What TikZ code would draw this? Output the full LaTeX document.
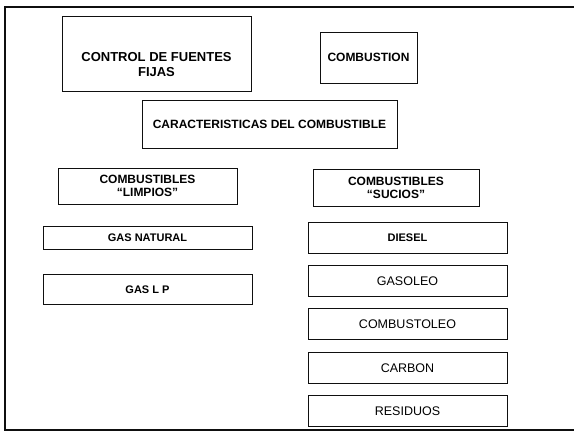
\documentclass[tikz,border=0pt]{standalone}
\usepackage{fontspec}
\setmainfont{Liberation Sans}
\usepackage{tikz}
\usetikzlibrary{positioning}
\definecolor{myink}{RGB}{15,15,15}
\tikzset{
  frame/.style={draw=myink, line width=1.6pt},
  box/.style={draw=myink, line width=0.9pt, rectangle, align=center, inner sep=2pt},
  hbox/.style={box, font=\bfseries\fontsize{12}{13}\selectfont},
  lbox/.style={box, minimum width=209pt, font=\bfseries\fontsize{11}{12}\selectfont},
  sbox/.style={box, minimum width=199pt, minimum height=31pt, font=\fontsize{12.5}{14}\selectfont}
}

\begin{document}
\begin{tikzpicture}[x=1pt, y=-1pt, node distance=11.5pt]
  \useasboundingbox (0,0) rectangle (574,433);
  \draw [frame] (574,7) -- (5,7) -- (5,430) -- (574,430);

  \node [box, minimum width=189pt, minimum height=75pt] (control) at (156.5,53.5) {};
  \node [font=\bfseries\fontsize{13}{15}\selectfont, align=center] (controltxt) at ([yshift=-11pt]control.center) {CONTROL DE FUENTES\\FIJAS};
  \node [hbox, minimum width=97pt, minimum height=51pt] (combustion) at (368.5,57.5) {COMBUSTION};
  \node [hbox, minimum width=255pt, minimum height=48pt] (caract) at (269.5,124) {CARACTERISTICAS DEL COMBUSTIBLE};

  \node [hbox, minimum width=179pt, minimum height=36pt] (limpios) at (147.5,186) {COMBUSTIBLES\\``LIMPIOS''};
  \node [lbox, minimum height=23pt] (gasnat) at (147.5,237.5) {GAS NATURAL};
  \node [lbox, minimum height=30pt, below=25pt of gasnat] (gaslp) {GAS L P};

  \node [hbox, minimum width=166pt, minimum height=37pt] (sucios) at (396,187.5) {COMBUSTIBLES\\``SUCIOS''};
  \node [sbox, font=\bfseries\fontsize{11}{12}\selectfont] (diesel) at (407.5,237.5) {DIESEL};
  \node [sbox, below=of diesel] (gasoleo) {GASOLEO};
  \node [sbox, below=of gasoleo] (combustoleo) {COMBUSTOLEO};
  \node [sbox, below=of combustoleo] (carbon) {CARBON};
  \node [sbox, below=of carbon] (residuos) {RESIDUOS};
\end{tikzpicture}
\end{document}
